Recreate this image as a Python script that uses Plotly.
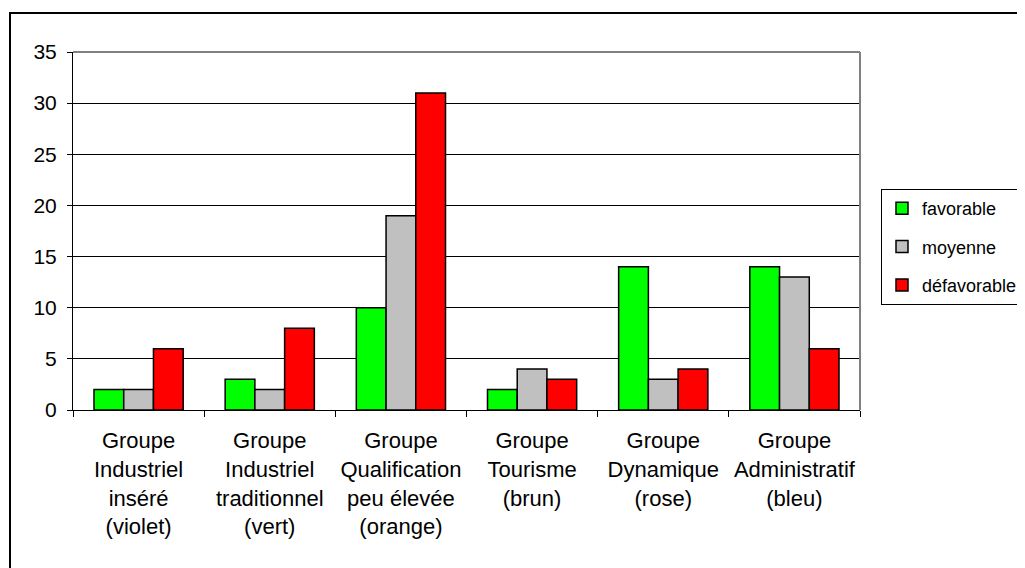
import plotly.graph_objects as go

categories = [
    "Groupe<br>Industriel<br>inséré<br>(violet)",
    "Groupe<br>Industriel<br>traditionnel<br>(vert)",
    "Groupe<br>Qualification<br>peu élevée<br>(orange)",
    "Groupe<br>Tourisme<br>(brun)",
    "Groupe<br>Dynamique<br>(rose)",
    "Groupe<br>Administratif<br>(bleu)",
]
favorable = [2, 3, 10, 2, 14, 14]
moyenne = [2, 2, 19, 4, 3, 13]
defavorable = [6, 8, 31, 3, 4, 6]
series_names = ["favorable", "moyenne", "défavorable"]
series_colors = ["#00FF00", "#C0C0C0", "#FF0000"]
y_ticks = [0, 5, 10, 15, 20, 25, 30, 35]

FONT = "Liberation Sans, Arial, sans-serif"

fig = go.Figure()
for name, vals, col in zip(series_names, [favorable, moyenne, defavorable], series_colors):
    fig.add_trace(go.Bar(
        x=categories, y=vals, name=name, legendgroup=name,
        marker=dict(color=col, line=dict(color="black", width=1.5)),
    ))

# the page has an 8px body margin: target screen coords minus 8
OFF = 8
W, H = 1025, 568
L, T = 73 - OFF, 52 - OFF
R = W - (860 - OFF)
B = H - (410 - OFF)
pw = W - L - R
ph = H - T - B

def px_x(px):
    return (px - OFF - L) / pw

def px_y(py):
    return (H - B - (py - OFF)) / ph

fig.update_layout(
    width=W, height=H,
    margin=dict(l=L, r=R, t=T, b=B, autoexpand=False),
    paper_bgcolor="white", plot_bgcolor="white",
    barmode="group", bargap=0.32, bargroupgap=0,
    font=dict(family=FONT, size=21, color="black"),
    legend=dict(
        x=px_x(881), y=px_y(189), xanchor="left", yanchor="top",
        bordercolor="black", borderwidth=1,
        font=dict(size=18, family=FONT, color="black"),
        traceorder="grouped", tracegroupgap=12,
        bgcolor="white",
    ),
    xaxis=dict(
        showline=True, linecolor="black", linewidth=1,
        ticks="outside", ticklen=6, tickcolor="black", tickson="boundaries",
        tickfont=dict(size=22, family=FONT, color="black"),
        ticklabelstandoff=11,
        showgrid=False,
    ),
    yaxis=dict(
        range=[0, 35], tickvals=y_ticks, ticktext=[str(v) for v in y_ticks],
        showline=True, linecolor="black", linewidth=1,
        ticks="outside", ticklen=5, tickcolor="black",
        showgrid=True, gridcolor="black", gridwidth=1,
        tickfont=dict(size=21, family=FONT, color="black"),
        ticklabelstandoff=6,
        zeroline=False,
    ),
)

# plot area top and right border (gray)
fig.add_shape(type="line", xref="paper", yref="paper", x0=0, x1=1, y0=1, y1=1,
              line=dict(color="#808080", width=2))
fig.add_shape(type="line", xref="paper", yref="paper", x0=1, x1=1, y0=0, y1=1,
              line=dict(color="#808080", width=2))
# outer frame (top and left visible)
fig.add_shape(type="rect", xref="paper", yref="paper",
              x0=px_x(10), x1=px_x(1060), y0=px_y(600), y1=px_y(13),
              line=dict(color="black", width=2), layer="below")

fig.write_html("out.html")
